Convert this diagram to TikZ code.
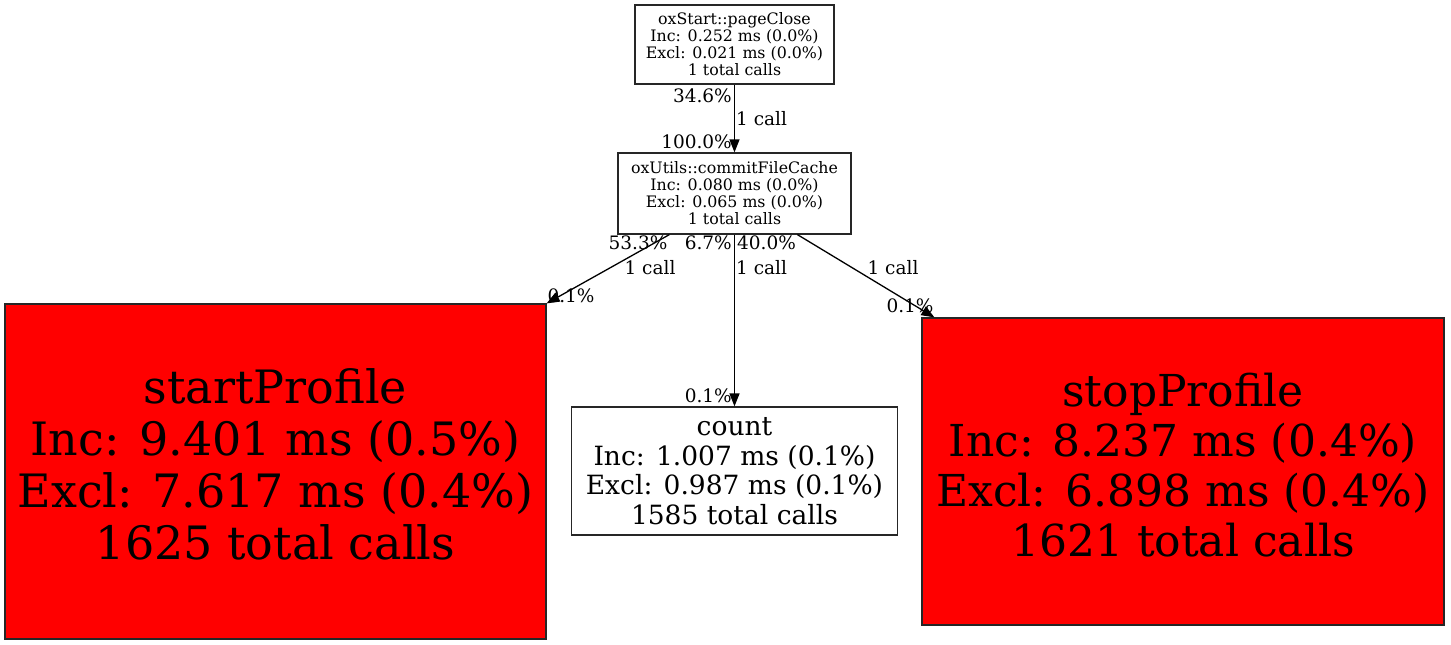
\documentclass[tikz,border=0pt]{standalone}
\usepackage{fontspec}
\setmainfont{DejaVu Serif}
\usetikzlibrary{arrows.meta,calc}
\tikzset{
  fnode/.style={draw=black!85, line width=1.2pt, inner sep=0pt, align=center},
  smallbox/.style={fnode, font=\fontsize{15.8}{17}\selectfont},
  hotbox/.style={fnode, fill=red},
  lbl/.style={inner sep=0pt, font=\fontsize{18.5}{20}\selectfont},
  conn/.style={line width=1.3pt, -{Triangle[length=13pt,width=10pt]}}
}
\begin{document}
\begin{tikzpicture}[x=1pt,y=-1pt]
\useasboundingbox (0,0) rectangle (1451,645);
\node[smallbox, minimum width=199pt, minimum height=79pt] (top) at (734.5,44.5)
  {oxStart::pageClose\\Inc: 0.252 ms (0.0\%)\\Excl: 0.021 ms (0.0\%)\\1 total calls};
\node[smallbox, minimum width=233pt, minimum height=81pt] (commit) at (734.5,193.5)
  {oxUtils::commitFileCache\\Inc: 0.080 ms (0.0\%)\\Excl: 0.065 ms (0.0\%)\\1 total calls};
\node[hotbox, minimum width=541pt, minimum height=335pt, font=\fontsize{46}{52}\selectfont] (start) at (275.5,471.5)
  {\raisebox{4pt}{\begin{tabular}{@{}c@{}}startProfile\\Inc: 9.401 ms (0.5\%)\\Excl: 7.617 ms (0.4\%)\\1625 total calls\end{tabular}}};
\node[fnode, minimum width=326pt, minimum height=128pt, font=\fontsize{26.5}{29.5}\selectfont] (count) at (734.5,471)
  {count\\Inc: 1.007 ms (0.1\%)\\Excl: 0.987 ms (0.1\%)\\1585 total calls};
\node[hotbox, minimum width=522pt, minimum height=307pt, font=\fontsize{44}{50}\selectfont] (stop) at (1183,471.5)
  {\raisebox{2pt}{\begin{tabular}{@{}c@{}}stopProfile\\Inc: 8.237 ms (0.4\%)\\Excl: 6.898 ms (0.4\%)\\1621 total calls\end{tabular}}};

\coordinate (cs1) at ($(commit.south west)+(52,0)$);
\coordinate (cs3) at ($(commit.south west)+(180,0)$);
\coordinate (st) at ($(stop.north west)+(13,0)$);

\draw[conn] (top.south) -- (commit.north);
\draw[conn] (cs1) -- (start.north east);
\draw[conn] (commit.south) -- (count.north);
\draw[conn] (cs3) -- (st);

\node[lbl, anchor=east] (l1) at (732,96) {34.6\%};
\node[lbl, anchor=west] (l2) at (736,119) {1 call};
\node[lbl, anchor=east] (l3) at (732,142) {100.0\%};
\node[lbl] (l4) at (638,243) {53.3\%};
\node[lbl, anchor=east] (l5) at (732,243) {6.7\%};
\node[lbl, anchor=west] (l6) at (737,243) {40.0\%};
\node[lbl] (l7) at (650,268) {1 call};
\node[lbl, anchor=west] (l8) at (736,268) {1 call};
\node[lbl] (l9) at (893,268) {1 call};
\node[lbl] (l10) at (571,296) {0.1\%};
\node[lbl] (l11) at (910,306) {0.1\%};
\node[lbl, anchor=east] (l12) at (732,396) {0.1\%};
\end{tikzpicture}
\end{document}
